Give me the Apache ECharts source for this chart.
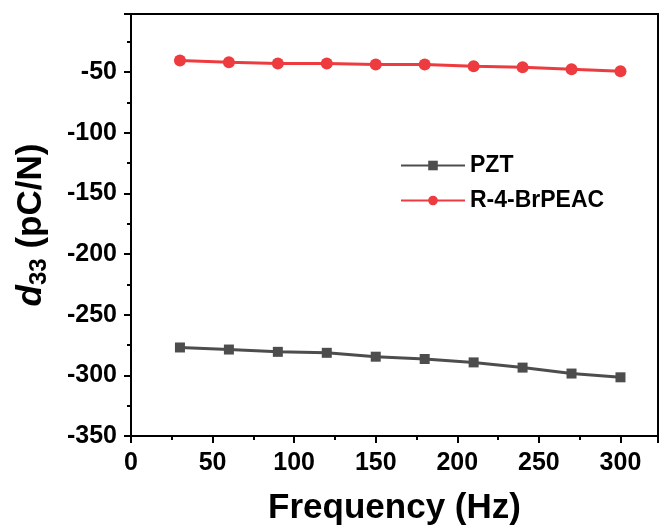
<!DOCTYPE html>
<html>
<head>
<meta charset="utf-8">
<script src="https://cdn.jsdelivr.net/npm/echarts@6/dist/echarts.min.js"></script>
<style>
  html, body { margin: 0; padding: 0; background: #fff; }
  #main { width: 660px; height: 531px; }
</style>
</head>
<body>
<div id="main"></div>
<script>
// frequency (Hz)
var freq = [30, 60, 90, 120, 150, 180, 210, 240, 270, 300];
// d33 values
var pzt = [-277.0, -278.7, -280.6, -281.4, -284.6, -286.5, -289.3, -293.6, -298.5, -301.6];
var brpeac = [-40.4, -41.8, -42.9, -42.9, -43.7, -43.7, -45.1, -45.9, -47.5, -49.2];

var chart = echarts.init(document.getElementById('main'));

function pairs(xs, ys) {
  return xs.map(function (x, i) { return [x, ys[i]]; });
}

var font = 'Arial, "Liberation Sans", sans-serif';

var option = {
  backgroundColor: '#fff',
  animation: false,
  grid: {
    left: 131,
    right: 2,
    top: 14,
    bottom: 91,
    show: true,
    borderColor: '#000',
    borderWidth: 2
  },
  legend: {
    orient: 'vertical',
    left: 395,
    top: 149,
    itemWidth: 64,
    itemHeight: 12,
    itemGap: 12,
    textStyle: { fontFamily: font, fontWeight: 'bold', fontSize: 23, color: '#000' },
    data: ['PZT', 'R-4-BrPEAC']
  },
  xAxis: {
    type: 'value',
    min: 0,
    max: 323,
    interval: 50,
    name: 'Frequency (Hz)',
    nameLocation: 'middle',
    nameGap: 55,
    nameTextStyle: { fontFamily: font, fontWeight: 'bold', fontSize: 35, color: '#000' },
    axisLine: { show: true, lineStyle: { color: '#000', width: 2 } },
    axisTick: { show: true, inside: false, length: 7, lineStyle: { color: '#000', width: 2 } },
    minorTick: { show: true, splitNumber: 2, length: 4, lineStyle: { color: '#000', width: 2 } },
    axisLabel: { fontFamily: font, fontWeight: 'bold', fontSize: 25, color: '#000', margin: 15, showMaxLabel: false },
    splitLine: { show: false }
  },
  yAxis: {
    type: 'value',
    min: -350,
    max: -2,
    interval: 50,
    name: '{i|d}{sub|33} (pC/N)',
    nameLocation: 'middle',
    nameRotate: 90,
    nameGap: 80,
    nameTextStyle: {
      fontFamily: font, fontWeight: 'bold', fontSize: 35, color: '#000',
      rich: {
        i: { fontFamily: font, fontWeight: 'bold', fontStyle: 'italic', fontSize: 35, color: '#000' },
        sub: { fontFamily: font, fontWeight: 'bold', fontSize: 24, color: '#000', padding: [16, 0, 0, 0] }
      }
    },
    axisLine: { show: true, lineStyle: { color: '#000', width: 2 } },
    axisTick: { show: true, inside: false, length: 7, lineStyle: { color: '#000', width: 2 } },
    minorTick: { show: true, splitNumber: 2, length: 4, lineStyle: { color: '#000', width: 2 } },
    axisLabel: { fontFamily: font, fontWeight: 'bold', fontSize: 25, color: '#000', margin: 14, showMaxLabel: false },
    splitLine: { show: false }
  },
  series: [
    {
      name: 'PZT',
      type: 'line',
      data: pairs(freq, pzt),
      symbol: 'rect',
      symbolSize: 10,
      lineStyle: { color: '#4d4d4d', width: 3 },
      itemStyle: { color: '#4d4d4d' }
    },
    {
      name: 'R-4-BrPEAC',
      type: 'line',
      data: pairs(freq, brpeac),
      symbol: 'circle',
      symbolSize: 12,
      lineStyle: { color: '#ee3b3f', width: 3 },
      itemStyle: { color: '#ee3b3f' }
    }
  ]
};

chart.setOption(option);
</script>
</body>
</html>
